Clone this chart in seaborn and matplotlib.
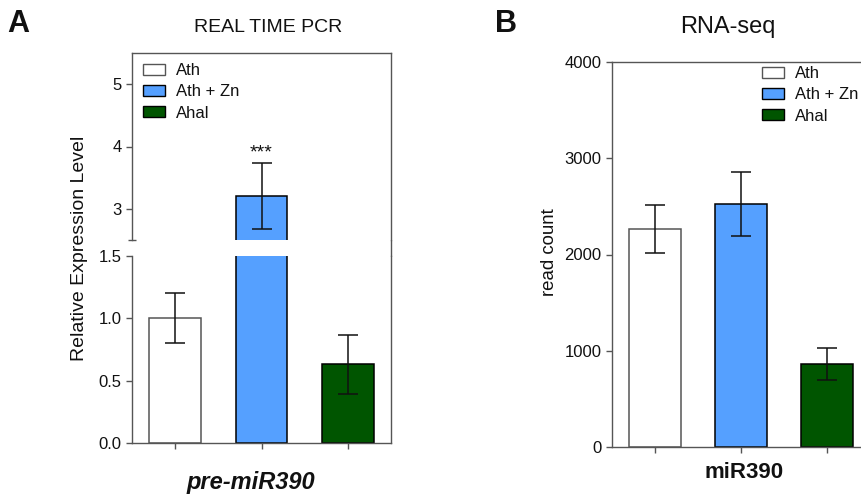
import matplotlib
matplotlib.use('Agg')
import matplotlib.pyplot as plt
import seaborn as sns
from matplotlib.patches import Patch
from matplotlib.lines import Line2D

# data
groups = ['Ath', 'Ath + Zn', 'Ahal']
colors = ['#FFFFFF', '#55A0FF', '#005500']
edges = ['#555555', '#000000', '#000000']

pcr_mean = [1.0, 3.2, 0.63]
pcr_err = [0.2, 0.53, 0.24]

rnaseq_mean = [2265, 2525, 862]
rnaseq_err = [250, 333, 167]

sns.set_style('ticks')
plt.rcParams['font.family'] = ['Liberation Sans', 'DejaVu Sans']
plt.rcParams['text.color'] = '#111111'
plt.rcParams['axes.edgecolor'] = '#555555'
plt.rcParams['xtick.color'] = '#555555'
plt.rcParams['ytick.color'] = '#555555'
plt.rcParams['xtick.labelcolor'] = '#111111'
plt.rcParams['ytick.labelcolor'] = '#111111'

W, H = 861, 495
fig = plt.figure(figsize=(W / 100, H / 100), dpi=100)


def box(left, right, top, bottom):
    return [left / W, 1 - bottom / H, (right - left) / W, (bottom - top) / H]


def fx(px):
    return px / W


def fy(py):
    return 1 - py / H


def draw_bars(ax, means, errs):
    sns.barplot(x=groups, y=means, hue=groups, palette=colors, width=0.6,
                saturation=1, errorbar=None, legend=False, ax=ax, linewidth=1.1)
    for cont, ec in zip(ax.containers, edges):
        for p in cont:
            p.set_edgecolor(ec)
    ax.errorbar(range(len(groups)), means, yerr=errs, fmt='none',
                ecolor='#111111', elinewidth=1.1, capsize=7.5, capthick=1.1)
    ax.set_xlim(-0.5, 2.5)
    ax.set_xticks(range(len(groups)))
    ax.set_xticklabels([])
    ax.set_xlabel('')
    ax.tick_params(axis='both', length=4, width=1, labelsize=12)


def add_legend(ax, x_px, y_px):
    handles = [Patch(facecolor=c, edgecolor=e, linewidth=1) for c, e in zip(colors, edges)]
    ax.legend(handles, groups, loc='upper left', bbox_to_anchor=(fx(x_px), fy(y_px)),
              bbox_transform=fig.transFigure, frameon=False, fontsize=12,
              borderpad=0, borderaxespad=0, handlelength=1.3, handleheight=0.62,
              handletextpad=0.7, labelspacing=0.38)


# Panel A: broken y axis
ax_top = fig.add_axes(box(132, 391, 53, 240))
ax_bot = fig.add_axes(box(132, 391, 256, 443))

draw_bars(ax_top, pcr_mean, pcr_err)
draw_bars(ax_bot, pcr_mean, pcr_err)

ax_top.set_ylim(2.5, 5.5)
ax_top.set_yticks([3, 4, 5])
ax_top.set_yticks([2.5], minor=True)
ax_top.tick_params(axis='y', which='minor', direction='inout', length=6, width=1)
ax_top.spines['bottom'].set_visible(False)
ax_top.tick_params(axis='x', bottom=False)

ax_bot.set_ylim(0, 1.5)
ax_bot.set_yticks([0.0, 0.5, 1.0, 1.5])
ax_bot.set_yticklabels(['0.0', '0.5', '1.0', '1.5'])
ax_bot.spines['top'].set_visible(False)

for a in (ax_top, ax_bot):
    for s in a.spines.values():
        s.set_linewidth(1)

# right spine continues across the break
fig.add_artist(Line2D([fx(391), fx(391)], [fy(240), fy(256)], color='#555555', lw=1))

ax_top.text(1, pcr_mean[1] + pcr_err[1] + 0.03, '***', ha='center', va='bottom',
            fontsize=14, color='#111111')

add_legend(ax_top, 143, 63)

fig.text(fx(79), fy(248), 'Relative Expression Level', rotation=90,
         ha='center', va='center', fontsize=14)
fig.text(fx(251), fy(483), 'pre-miR390', ha='center', va='center',
         fontsize=17, fontweight='bold', style='italic')
fig.text(fx(268), fy(28), 'REAL TIME PCR', ha='center', va='center', fontsize=14)
fig.text(fx(7), fy(24), 'A', ha='left', va='center', fontsize=22, fontweight='bold')

# Panel B
ax_b = fig.add_axes(box(612, 870, 62, 447))
draw_bars(ax_b, rnaseq_mean, rnaseq_err)
ax_b.set_ylim(0, 4000)
ax_b.set_yticks([0, 1000, 2000, 3000, 4000])
for s in ax_b.spines.values():
    s.set_linewidth(1)

add_legend(ax_b, 762, 66)

fig.text(fx(550), fy(252), 'read count', rotation=90,
         ha='center', va='center', fontsize=13.4)
fig.text(fx(744), fy(473), 'miR390', ha='center', va='center',
         fontsize=16, fontweight='bold')
fig.text(fx(728), fy(27), 'RNA-seq', ha='center', va='center', fontsize=17)
fig.text(fx(495), fy(24), 'B', ha='left', va='center', fontsize=22, fontweight='bold')

fig.savefig('out.png', dpi=100)
